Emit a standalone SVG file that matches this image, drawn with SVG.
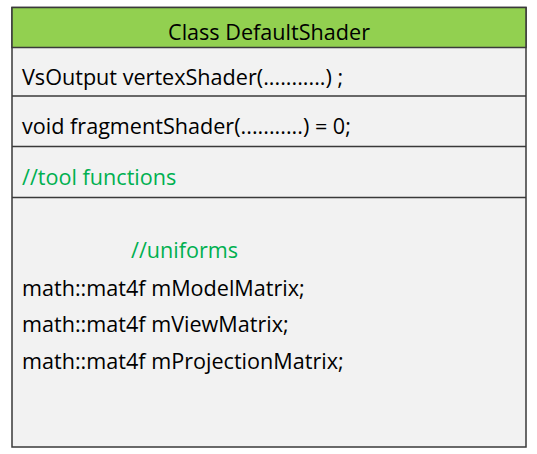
<svg xmlns="http://www.w3.org/2000/svg" width="537" height="454" viewBox="0 0 537 454">
<style>
.t{font-family:"Open Sans","Noto Sans","DejaVu Sans",sans-serif;font-size:21.6px;fill:#000}
.g{fill:#00b050}
.box{fill:#f2f2f2;stroke:#3a3a3a;stroke-width:1.5}
.div{stroke:#3a3a3a;stroke-width:1.5}
</style>
<rect width="537" height="454" fill="#ffffff"/>
<g id="class-defaultshader">
<rect class="box" x="12" y="7.5" width="514" height="439.5"/>
<rect x="12" y="7.5" width="514" height="40" fill="#92d050" stroke="#3a3a3a" stroke-width="1.5"/>
<line class="div" x1="12" y1="96" x2="526" y2="96"/>
<line class="div" x1="12" y1="146.5" x2="526" y2="146.5"/>
<line class="div" x1="12" y1="197.5" x2="526" y2="197.5"/>
<text class="t" x="269" y="39.5" text-anchor="middle">Class DefaultShader</text>
<text class="t" x="22" y="84.5">VsOutput vertexShader(...........) ;</text>
<text class="t" x="22" y="134">void fragmentShader(...........) = 0;</text>
<text class="t g" x="22" y="184.5">//tool functions</text>
<text class="t g" x="131" y="258">//uniforms</text>
<text class="t" x="22" y="295.5">math::mat4f mModelMatrix;</text>
<text class="t" x="22" y="332">math::mat4f mViewMatrix;</text>
<text class="t" x="22" y="368.5">math::mat4f mProjectionMatrix;</text>
</g>
<g id="connectors"/>
</svg>
